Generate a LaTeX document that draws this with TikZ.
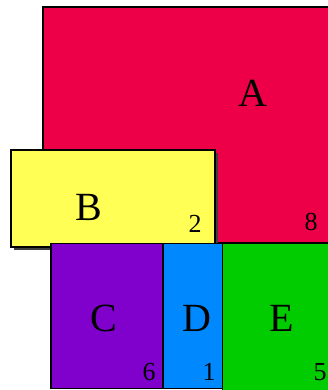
\documentclass[tikz,border=0pt]{standalone}
\usepackage{fontspec}
\setmainfont{Liberation Serif}
\definecolor{cA}{HTML}{EE0048}
\definecolor{cB}{HTML}{FFFF55}
\definecolor{cC}{HTML}{8000CC}
\definecolor{cD}{HTML}{0088FF}
\definecolor{cE}{HTML}{00CC00}
\begin{document}
\begin{tikzpicture}[x=1pt,y=-1pt,
  box/.style={draw=black,line width=1.8pt},
  big/.style={font=\fontsize{40}{42}\selectfont,inner sep=0pt},
  num/.style={font=\fontsize{26}{28}\selectfont,inner sep=0pt}]
\useasboundingbox (0,0) rectangle (328,390);
\fill[white] (0,0) rectangle (328,390);
\begin{scope}
\clip (0,0) rectangle (328,390);
% A
\filldraw[box,fill=cA] (43,7) rectangle (332,243);
\node[big] (A) at (253,93) {A};
\node[num] (n8) at (311,222) {8};
% B
\fill[black!75] (13.5,152.5) rectangle (217.5,249.5);
\filldraw[box,fill=cB] (11,150) rectangle (215,247);
\node[big] (B) at (89,207) {B};
\node[num] (n2) at (195,224) {2};
% C
\filldraw[box,fill=cC] (51,243.5) rectangle (163,388.5);
\node[big] (C) at (104,318) {C};
\node[num] (n6) at (149,372) {6};
% D
\filldraw[box,fill=cD] (163,243.5) rectangle (222.5,388.5);
\node[big] (D) at (197,318) {D};
\node[num] (n1) at (209,372) {1};
% E
\filldraw[box,fill=cE] (222.5,243.5) rectangle (332,392);
\node[big] (E) at (282,318) {E};
\node[num] (n5) at (320,372) {5};
\end{scope}
\end{tikzpicture}
\end{document}
